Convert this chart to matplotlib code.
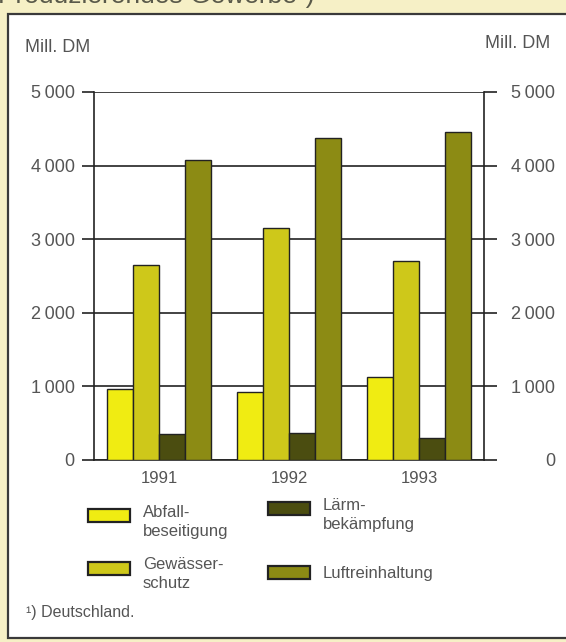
import matplotlib
matplotlib.use("Agg")
import matplotlib.pyplot as plt
from matplotlib.patches import Rectangle
import numpy as np

plt.rcParams['font.family'] = ['Liberation Sans', 'DejaVu Sans']

years = ["1991", "1992", "1993"]
series = ["Abfall-\nbeseitigung", "Gewässer-\nschutz", "Lärm-\nbekämpfung", "Luftreinhaltung"]
abfall = [970, 930, 1130]
gewaesser = [2650, 3150, 2710]
laerm = [360, 370, 300]
luft = [4080, 4370, 4450]
values = [abfall, gewaesser, laerm, luft]
colors = ["#f0ec12", "#cec81a", "#4b4d10", "#8c8b14"]
yticks = [0, 1000, 2000, 3000, 4000, 5000]
ytick_labels = ["0", "1\u2009000", "2\u2009000", "3\u2009000", "4\u2009000", "5\u2009000"]

W, H = 566, 642
fig = plt.figure(figsize=(W / 100, H / 100), dpi=100)
fig.patch.set_facecolor("#f6f0c6")

def fx(px):
    return px / W

def fy(py):
    return 1 - py / H

# frame
fig.add_artist(Rectangle((fx(8), fy(638)), fx(W + 20) - fx(8), fy(14) - fy(638),
                         transform=fig.transFigure, facecolor="white",
                         edgecolor="#3a3a3a", linewidth=1.6, zorder=0))

# partially visible title (cut off at the top edge, as in the reference)
fig.text(fx(-2), fy(3), "Produzierendes Gewerbe\u00b9)", fontsize=19, color="#5a5a4a",
         va="baseline", ha="left")

ax = fig.add_axes([fx(94), fy(460), fx(484) - fx(94), fy(92) - fy(460)])
ax.set_facecolor("none")
x = np.arange(len(years))
bw = 0.2
for i, (vals, col) in enumerate(zip(values, colors)):
    ax.bar(x - 0.3 + i * bw, vals, width=bw, color=col, edgecolor="#222222",
           linewidth=1.0, zorder=3)

ax.set_xlim(-0.5, 2.5)
ax.set_ylim(0, 5000)
ax.set_yticks(yticks)
ax.set_yticklabels(ytick_labels)
ax.set_xticks(x)
ax.set_xticklabels(years)
ax.yaxis.grid(True, color="#222222", linewidth=1.2, zorder=1)
ax.set_axisbelow(True)
for s in ["left", "right", "bottom"]:
    ax.spines[s].set_color("#222222")
    ax.spines[s].set_linewidth(1.2)
ax.spines["top"].set_visible(False)
ax.tick_params(axis="y", which="both", left=True, right=True, labelleft=True,
               labelright=True, length=9, width=1.2, color="#222222",
               labelsize=13, labelcolor="#555555", pad=5, direction="out")
ax.tick_params(axis="y", which="major", pad=5)
for t in ax.yaxis.get_major_ticks():
    t.label2.set_horizontalalignment("right")
    t.set_pad(5)
# right labels right-aligned at the frame's right side
ax.yaxis.set_tick_params(which="major", pad=5)
fig.canvas.draw()
for t in ax.yaxis.get_major_ticks():
    t.label2.set_horizontalalignment("right")
# shift right labels via offset transform
import matplotlib.transforms as mtrans
offset = mtrans.ScaledTranslation(52 / 100, 0, fig.dpi_scale_trans)
for lab in ax.get_yticklabels(which="major"):
    pass
for t in ax.yaxis.get_major_ticks():
    t.label2.set_transform(t.label2.get_transform() + offset)

ax.tick_params(axis="x", length=0, labelsize=12, labelcolor="#555555", pad=8)

fig.text(fx(25), fy(48), "Mill. DM", fontsize=13, color="#555555", va="center", ha="left")
fig.text(fx(550), fy(43), "Mill. DM", fontsize=13, color="#555555", va="center", ha="right")

# legend (manual)
leg_pos = [(88, 509, 143, 505), (88, 562, 143, 557), (268, 502, 323, 498), (268, 566, 323, 566)]
for (sx, sy, tx, ty), lab, col in zip(leg_pos, series, colors):
    fig.add_artist(Rectangle((fx(sx), fy(sy + 13)), fx(42), 13 / H, transform=fig.transFigure,
                             facecolor=col, edgecolor="#222222", linewidth=1.6))
    fig.text(fx(tx), fy(ty), lab, fontsize=12, color="#555555", va="top", ha="left",
             linespacing=1.3)

fig.text(fx(26), fy(612), "\u00b9) Deutschland.", fontsize=11.5, color="#555555",
         va="center", ha="left")

fig.savefig("out.png", dpi=100, facecolor=fig.get_facecolor())
